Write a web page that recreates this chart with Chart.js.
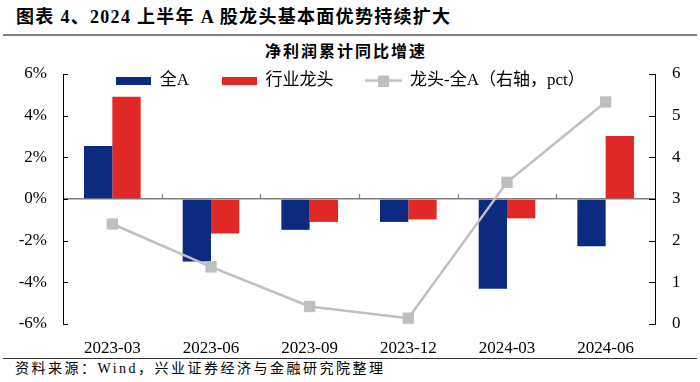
<!DOCTYPE html>
<html><head><meta charset="utf-8">
<script src="https://cdn.jsdelivr.net/npm/chart.js@4"></script>
<style>
html,body{margin:0;padding:0;background:#fff;}
#page{position:relative;width:700px;height:382px;overflow:hidden;font-family:"Liberation Serif","Noto Sans CJK SC",serif;color:#000;}
#hdr{position:absolute;left:16px;top:6px;font-size:18px;font-weight:bold;white-space:nowrap;line-height:22px;letter-spacing:1.3px;}
#hl{position:absolute;left:3px;width:694px;top:34px;height:0;border-top:2px solid #7f7f7f;}
#ct{position:absolute;left:0;width:692px;text-align:center;top:41px;font-size:16px;font-weight:bold;letter-spacing:2px;line-height:22px;}
#wrap{position:absolute;left:0;top:40px;width:700px;height:318px;}
#bl{position:absolute;left:3px;width:694px;top:358px;height:0;border-top:1.5px solid #333;}
#src{position:absolute;left:15px;top:360px;font-size:14px;letter-spacing:2.5px;line-height:18px;white-space:nowrap;}
</style>
</head>
<body>
<div id="page">
  <div id="hdr">图表 4、2024 上半年 A 股龙头基本面优势持续扩大</div>
  <div id="hl"></div>
  <div id="ct">净利润累计同比增速</div>
  <div id="wrap"><canvas id="c"></canvas></div>
  <div id="bl"></div>
  <div id="src">资料来源：Wind，兴业证券经济与金融研究院整理</div>
</div>
<script>
// ---- data ----
const categories = ['2023-03', '2023-06', '2023-09', '2023-12', '2024-03', '2024-06'];
const allA = [2.55, -3.00, -1.48, -1.10, -4.31, -2.27];
const leaders = [4.91, -1.65, -1.10, -0.98, -0.93, 3.03];
const diffPct = [2.40, 1.37, 0.42, 0.14, 3.40, 5.33];
const seriesNames = ['全A', '行业龙头', '龙头-全A（右轴，pct）'];
const leftTicks = [-6, -4, -2, 0, 2, 4, 6];
const rightTicks = [0, 1, 2, 3, 4, 5, 6];

const BLUE = '#0b2a80', RED = '#e02826', GREY = '#bfbfbf';
const FONT = '"Liberation Serif", "Noto Sans CJK SC", serif';
Chart.defaults.font.family = FONT;
Chart.defaults.color = '#000';

function rectIcon(color) {
  const c = document.createElement('canvas');
  c.width = 35; c.height = 8;
  const g = c.getContext('2d');
  g.fillStyle = color; g.fillRect(0, 0, 35, 8);
  return c;
}
function lineIcon(color) {
  const c = document.createElement('canvas');
  c.width = 37; c.height = 12;
  const g = c.getContext('2d');
  g.strokeStyle = color; g.lineWidth = 2.5;
  g.beginPath(); g.moveTo(0, 6); g.lineTo(37, 6); g.stroke();
  g.fillStyle = color; g.fillRect(13, 1, 11, 11);
  return c;
}
const icons = [rectIcon(BLUE), rectIcon(RED), lineIcon(GREY)];

const tickPlugin = {
  id: 'innerTicks',
  beforeLayout(chart) {
    const lg = chart.legend;
    if (lg && !lg._patched) {
      const orig = lg.fit.bind(lg);
      lg.fit = function () { orig(); this.height = 34; };
      lg._patched = true;
    }
  },
  afterLayout(chart) {
    // let the legend overlap the plot area without being clipped
    const lg = chart.legend;
    if (lg) { lg.height = 70; lg.bottom = lg.top + 70; }
  },
  afterDraw(chart) {
    const ctx = chart.ctx, a = chart.chartArea;
    const y = chart.scales.y, y1 = chart.scales.y1, x = chart.scales.x;
    ctx.save();
    ctx.strokeStyle = '#000'; ctx.lineWidth = 1;
    y.ticks.forEach(t => {
      const py = Math.round(y.getPixelForValue(t.value)) + 0.5;
      ctx.beginPath(); ctx.moveTo(a.left, py); ctx.lineTo(a.left + 5, py); ctx.stroke();
    });
    y1.ticks.forEach(t => {
      const py = Math.round(y1.getPixelForValue(t.value)) + 0.5;
      ctx.beginPath(); ctx.moveTo(a.right - 6, py); ctx.lineTo(a.right, py); ctx.stroke();
    });
    const z = y.getPixelForValue(0);
    ctx.strokeStyle = '#7f7f7f'; ctx.lineWidth = 1.2;
    for (let i = 1; i < categories.length; i++) {
      const px = Math.round((x.getPixelForValue(i - 1) + x.getPixelForValue(i)) / 2) + 0.5;
      ctx.beginPath(); ctx.moveTo(px, z); ctx.lineTo(px, z - 5); ctx.stroke();
    }
    ctx.restore();
  }
};

new Chart(document.getElementById('c'), {
  data: {
    labels: categories,
    datasets: [
      { type: 'bar', label: seriesNames[0], data: allA, backgroundColor: BLUE, yAxisID: 'y', order: 1,
        categoryPercentage: 0.574, barPercentage: 1.0 },
      { type: 'bar', label: seriesNames[1], data: leaders, backgroundColor: RED, yAxisID: 'y', order: 1,
        categoryPercentage: 0.574, barPercentage: 1.0 },
      { type: 'line', label: seriesNames[2], data: diffPct, yAxisID: 'y1', order: 0,
        borderColor: GREY, borderWidth: 2.5, backgroundColor: GREY, pointStyle: 'rect',
        pointRadius: 8, pointBorderWidth: 0, pointBackgroundColor: GREY, tension: 0, clip: false }
    ]
  },
  options: {
    responsive: true, maintainAspectRatio: false, animation: false,
    layout: { padding: 0 },
    plugins: {
      tooltip: { enabled: false },
      title: { display: false },
      legend: {
        display: true, position: 'top',
        labels: {
          usePointStyle: true, pointStyleWidth: 36, padding: 32,
          font: { size: 17, family: FONT }, color: '#000',
          generateLabels: (chart) => chart.data.datasets.map((ds, i) => ({
            text: ds.label, pointStyle: icons[i], datasetIndex: i,
            hidden: !chart.isDatasetVisible(i), fontColor: '#000',
            lineWidth: 0, strokeStyle: 'rgba(0,0,0,0)', fillStyle: 'rgba(0,0,0,0)'
          }))
        }
      }
    },
    scales: {
      x: {
        type: 'category', offset: true,
        grid: { display: false }, border: { display: false },
        ticks: { font: { size: 17 }, color: '#000', padding: 6, maxRotation: 0 },
        afterFit(s) { s.height = 34; }
      },
      y: {
        position: 'left', min: -6, max: 6,
        afterBuildTicks(s) { s.ticks = leftTicks.map(v => ({ value: v })); },
        ticks: { font: { size: 17 }, color: '#000', padding: 16, callback: v => v + '%' },
        grid: { drawTicks: false, lineWidth: 1.5,
          color: c => (c.tick && c.tick.value === 0) ? '#7f7f7f' : 'rgba(0,0,0,0)' },
        border: { display: true, color: '#000', width: 1 },
        afterFit(s) { s.width = 63; }
      },
      y1: {
        position: 'right', min: 0, max: 6,
        afterBuildTicks(s) { s.ticks = rightTicks.map(v => ({ value: v })); },
        ticks: { font: { size: 17 }, color: '#000', padding: 17 },
        grid: { display: false, drawTicks: false },
        border: { display: true, color: '#000', width: 1 },
        afterFit(s) { s.width = 45; }
      }
    }
  },
  plugins: [tickPlugin]
});
</script>
</body></html>
